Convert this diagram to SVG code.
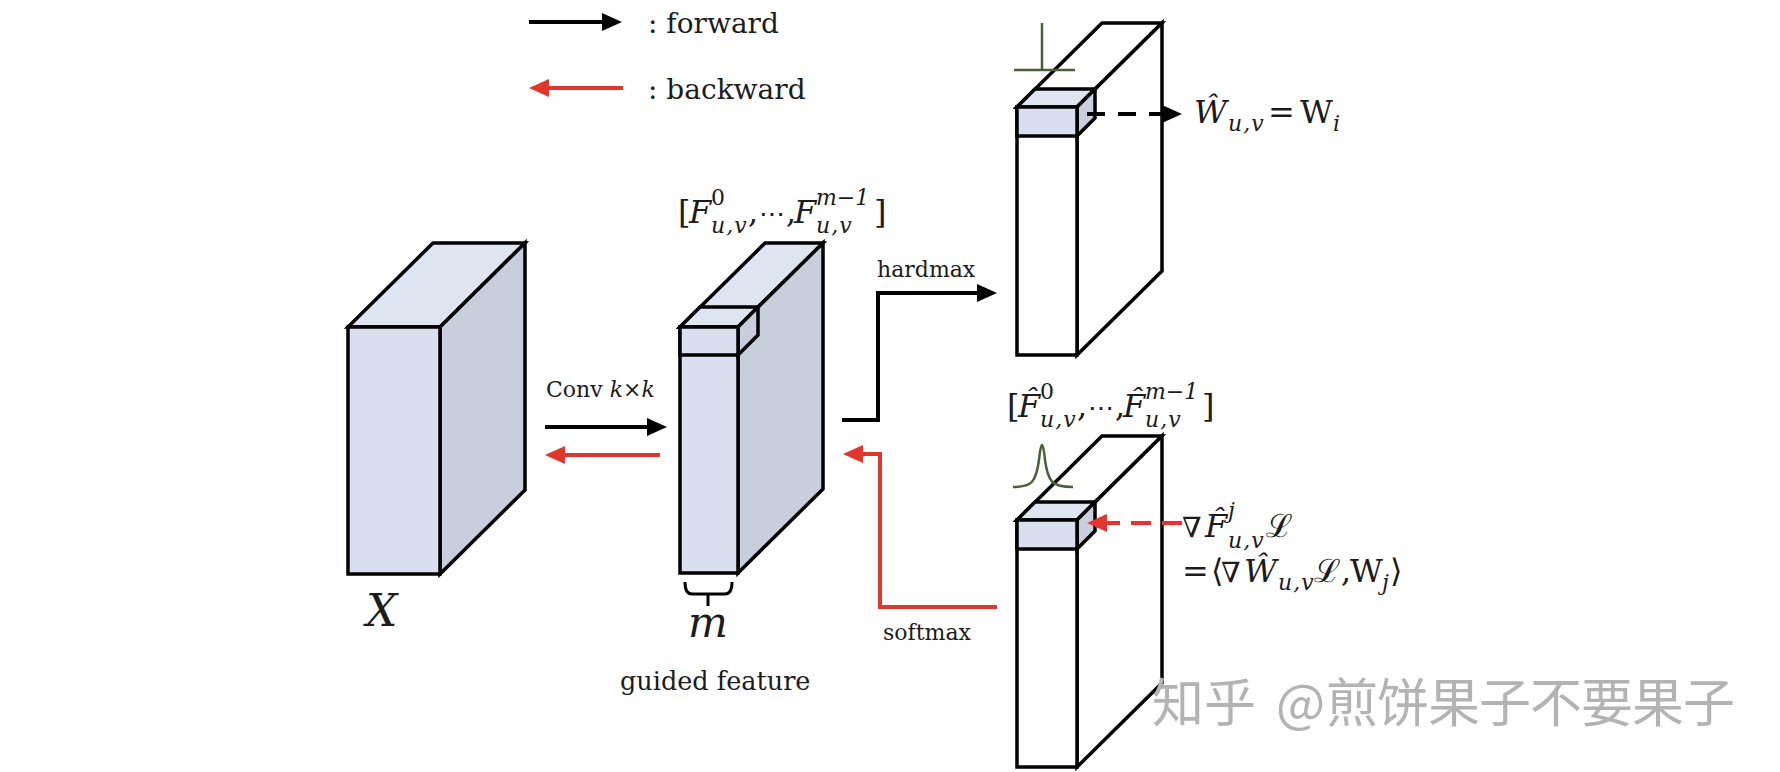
<svg xmlns="http://www.w3.org/2000/svg" width="1780" height="772" viewBox="0 0 1780 772">
<style>
.bx{stroke:#000;stroke-width:3.5;stroke-linejoin:miter;stroke-linecap:square}
.fr{fill:#d9dfef}
.rt{fill:#c8cedc}
.tp{fill:#dfe4f1}
.wh{fill:#fff}
.lbl{font-family:"DejaVu Serif","Liberation Serif",serif;fill:#1c1c1c}
.m{font-family:"DejaVu Serif","Liberation Serif",serif;fill:#1c1c1c;font-size:32px}
.s{font-size:22px}
.d{font-size:26px}
.i{font-style:italic}
.blk{stroke:#000;stroke-width:4;fill:none}
.red{stroke:#e2352b;stroke-width:4;fill:none}
.grn{stroke:#4b5f36;stroke-width:2.5;fill:none}
.wm{font-family:"Noto Sans CJK SC",sans-serif;font-size:52px;fill:#b3b3b3}
</style>
<defs>
<marker id="ahB" markerUnits="userSpaceOnUse" markerWidth="22" markerHeight="20" refX="8" refY="9" orient="auto"><path d="M0,0 L20,9 L0,18 z" fill="#000"/></marker>
<marker id="ahR" markerUnits="userSpaceOnUse" markerWidth="22" markerHeight="20" refX="8" refY="9" orient="auto"><path d="M0,0 L20,9 L0,18 z" fill="#e2352b"/></marker>
</defs>
<rect width="1780" height="772" fill="#fff"/>

<g id="legend">
<line class="blk" x1="529" y1="22" x2="610" y2="22" marker-end="url(#ahB)"/>
<text class="lbl" x="648" y="33" font-size="28">: forward</text>
<line class="red" x1="623" y1="88" x2="541" y2="88" marker-end="url(#ahR)"/>
<text class="lbl" x="648" y="99" font-size="28">: backward</text>
</g>

<g id="nodeX">
<polygon class="bx tp" points="348,327 433,243 525,243 440,327"/>
<polygon class="bx rt" points="440,327 525,243 525,490 440,574"/>
<rect class="bx fr" x="348" y="327" width="92" height="247"/>
<text class="m i" x="366" y="626" style="font-size:44px">X</text>
</g>

<g id="nodeGuided">
<polygon class="bx tp" points="680,327 765,243 823,243 738,327"/>
<polygon class="bx rt" points="738,327 823,243 823,489 738,573"/>
<rect class="bx fr" x="680" y="327" width="58" height="246"/>
<polygon class="bx tp" points="680,327 700,307 758,307 738,327"/>
<polygon class="bx rt" points="738,327 758,307 758,335 738,355"/>
<rect class="bx fr" x="680" y="327" width="58" height="28"/>
<path d="M685,582 Q685,594 692,594 L725,594 Q732,594 732,582 M708,594 L708,606" stroke="#000" stroke-width="3" fill="none"/>
<text class="m i" x="708" y="637" style="font-size:42px" text-anchor="middle">m</text>
<text class="lbl" x="620" y="690" font-size="25.5">guided feature</text>
<text class="m">
<tspan x="678" y="223">[</tspan><tspan class="i" x="689" y="223">F</tspan><tspan class="s" x="711" y="205">0</tspan><tspan class="s i" x="711" y="233" letter-spacing="1">u,v</tspan><tspan x="748" y="223">,</tspan><tspan class="d" x="759" y="223">⋯</tspan><tspan x="786" y="223">,</tspan><tspan class="i" x="794" y="223">F</tspan><tspan class="s i" x="816" y="205">m−1</tspan><tspan class="s i" x="816" y="233" letter-spacing="1">u,v</tspan><tspan x="874" y="223">]</tspan>
</text>
</g>

<g id="nodeHard">
<polygon class="bx wh" points="1017,107 1102,23 1162,23 1077,107"/>
<polygon class="bx wh" points="1077,107 1162,23 1162,271 1077,355"/>
<rect class="bx wh" x="1017" y="107" width="60" height="248"/>
<polygon class="bx tp" points="1017,107 1035,89 1095,89 1077,107"/>
<polygon class="bx rt" points="1077,107 1095,89 1095,118 1077,136"/>
<rect class="bx fr" x="1017" y="107" width="60" height="29"/>
<path class="grn" d="M1042,23 L1042,70 M1014,70 L1075,70"/>
<text class="m">
<tspan class="i" x="1194" y="123">Ŵ</tspan><tspan class="s i" x="1228" y="131" letter-spacing="1">u,v</tspan><tspan x="1268" y="123">=</tspan><tspan x="1300" y="123">W</tspan><tspan class="s i" x="1333" y="131">i</tspan>
</text>
</g>

<g id="nodeSoft">
<polygon class="bx wh" points="1017,520 1102,436 1162,436 1077,520"/>
<polygon class="bx wh" points="1077,520 1162,436 1162,683 1077,767"/>
<rect class="bx wh" x="1017" y="520" width="60" height="247"/>
<polygon class="bx tp" points="1017,520 1035,502 1095,502 1077,520"/>
<polygon class="bx rt" points="1077,520 1095,502 1095,531 1077,549"/>
<rect class="bx fr" x="1017" y="520" width="60" height="29"/>
<path class="grn" d="M1013,487 C1032,487 1036,482 1039,460 C1041,440 1043,440 1045,460 C1048,482 1052,487 1073,487"/>
<text class="m">
<tspan x="1007" y="417">[</tspan><tspan class="i" x="1018" y="417">F̂</tspan><tspan class="s" x="1040" y="399">0</tspan><tspan class="s i" x="1040" y="427" letter-spacing="1">u,v</tspan><tspan x="1077" y="417">,</tspan><tspan class="d" x="1088" y="417">⋯</tspan><tspan x="1115" y="417">,</tspan><tspan class="i" x="1123" y="417">F̂</tspan><tspan class="s i" x="1145" y="399">m−1</tspan><tspan class="s i" x="1145" y="427" letter-spacing="1">u,v</tspan><tspan x="1202" y="417">]</tspan>
</text>
<text class="m">
<tspan x="1182" y="537" font-size="28">∇</tspan><tspan class="i" x="1205" y="537">F̂</tspan><tspan class="s i" x="1228" y="518">j</tspan><tspan class="s i" x="1228" y="548" letter-spacing="1">u,v</tspan><tspan x="1266" y="537">ℒ</tspan>
</text>
<text class="m">
<tspan x="1182" y="582">=</tspan><tspan x="1211" y="582">⟨</tspan><tspan x="1221" y="582" font-size="28">∇</tspan><tspan class="i" x="1244" y="582">Ŵ</tspan><tspan class="s i" x="1278" y="590" letter-spacing="1">u,v</tspan><tspan x="1314" y="582">ℒ,</tspan><tspan x="1350" y="582">W</tspan><tspan class="s i" x="1382" y="590">j</tspan><tspan x="1390" y="582">⟩</tspan>
</text>
</g>

<g id="connectors">
<line class="blk" x1="545" y1="427" x2="655" y2="427" marker-end="url(#ahB)"/>
<line class="red" x1="660" y1="455" x2="557" y2="455" marker-end="url(#ahR)"/>
<text class="lbl" x="546" y="397" font-size="22">Conv <tspan class="i">k</tspan>×<tspan class="i">k</tspan></text>
<polyline class="blk" points="842,420 878,420 878,293 985,293" marker-end="url(#ahB)"/>
<text class="lbl" x="877" y="277" font-size="22">hardmax</text>
<polyline class="red" points="997,607 880,607 880,454 855,454" marker-end="url(#ahR)"/>
<text class="lbl" x="883" y="640" font-size="22">softmax</text>
<line class="blk" x1="1087" y1="114" x2="1170" y2="114" stroke-dasharray="18 13" marker-end="url(#ahB)"/>
<line class="red" x1="1182" y1="523" x2="1099" y2="523" stroke-dasharray="20 11" marker-end="url(#ahR)"/>
</g>

<text class="wm" y="722"><tspan x="1152">知乎</tspan><tspan x="1276">@</tspan><tspan x="1326" letter-spacing="-1">煎饼果子不要果子</tspan></text>
</svg>
